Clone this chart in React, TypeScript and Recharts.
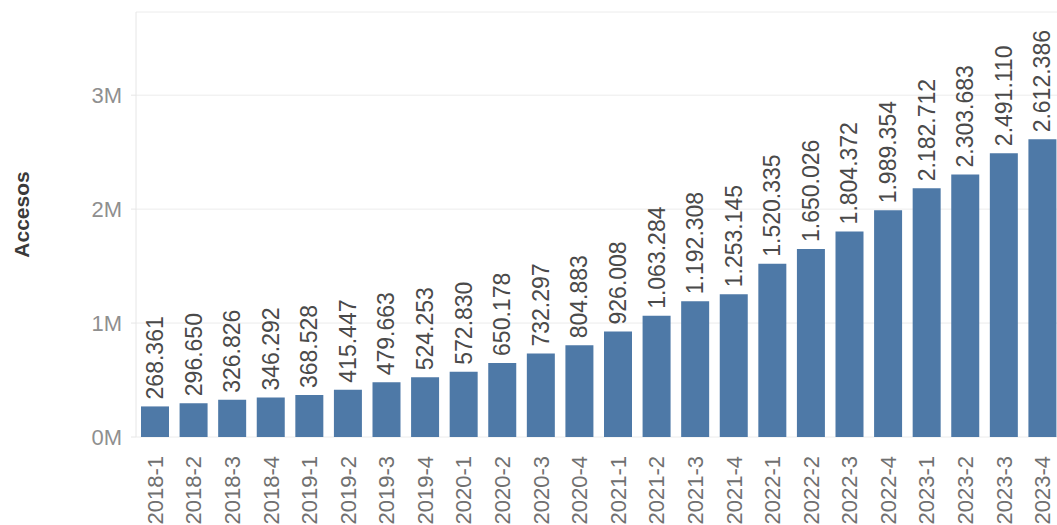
import React from 'react';
import { BarChart, Bar, XAxis, YAxis, CartesianGrid, LabelList, Label } from 'recharts';

const categories = ['2018-1','2018-2','2018-3','2018-4','2019-1','2019-2','2019-3','2019-4','2020-1','2020-2','2020-3','2020-4','2021-1','2021-2','2021-3','2021-4','2022-1','2022-2','2022-3','2022-4','2023-1','2023-2','2023-3','2023-4'];
const accesos = [268361,296650,326826,346292,368528,415447,479663,524253,572830,650178,732297,804883,926008,1063284,1192308,1253145,1520335,1650026,1804372,1989354,2182712,2303683,2491110,2612386];
const yTicks = [0, 1000000, 2000000, 3000000];
const yTickLabels = ['0M', '1M', '2M', '3M'];
const yDomainMax = 3730000;

const data = categories.map((c, i) => ({ periodo: c, accesos: accesos[i] }));

const FONT = '"Liberation Sans", Arial, sans-serif';
const BAR_COLOR = '#4e79a7';

function fmt(v: number): string {
  const s = String(Math.round(v));
  let out = '';
  for (let i = 0; i < s.length; i++) {
    const fromEnd = s.length - i;
    out += s[i];
    if (fromEnd > 1 && (fromEnd - 1) % 3 === 0) out += '.';
  }
  return out;
}

const XTick = (props: any) => {
  const { x, y, payload } = props;
  const ty = y + 11;
  return (
    <text x={x} y={ty} transform={`rotate(-90, ${x}, ${ty})`} textAnchor="end" dominantBaseline="central"
      fill="#707070" fontSize={22} fontFamily={FONT}>
      {payload.value}
    </text>
  );
};

const YTick = (props: any) => {
  const { y, payload } = props;
  const idx = yTicks.indexOf(payload.value);
  return (
    <text x={122} y={y} textAnchor="end" dominantBaseline="central" fill="#8f8f8f" fontSize={22} fontFamily={FONT}>
      {idx >= 0 ? yTickLabels[idx] : ''}
    </text>
  );
};

const ValueLabel = (props: any) => {
  const { x, y, width, value } = props;
  const cx = x + width / 2;
  const ty = y - 7;
  return (
    <text x={cx} y={ty} transform={`rotate(-90, ${cx}, ${ty})`} textAnchor="start" dominantBaseline="central"
      fill="#4a4a4a" fontSize={23} fontFamily={FONT}>
      {fmt(value)}
    </text>
  );
};

const AxisTitle = (props: any) => {
  const { viewBox } = props;
  const cy = viewBox.y + viewBox.height / 2 - 10;
  const cx = 21;
  return (
    <text x={cx} y={cy} transform={`rotate(-90, ${cx}, ${cy})`} textAnchor="middle" dominantBaseline="central"
      fill="#3a3a3a" fontSize={21} fontFamily={FONT} fontWeight={700}>
      Accesos
    </text>
  );
};

export default function App() {
  return (
    <div style={{ position: 'absolute', left: 0, top: 0, width: 1057, height: 525, overflow: 'hidden', background: '#fff' }}>
      <BarChart width={1062} height={525} data={data} margin={{ top: 12, right: 0, bottom: 0, left: 0 }}>
        <CartesianGrid vertical={false} stroke="#ececec" />
        <XAxis dataKey="periodo" height={88} interval={0} tick={<XTick />} tickLine={false} axisLine={false} />
        <YAxis width={136} domain={[0, yDomainMax]} ticks={yTicks} tick={<YTick />}
          tickLine={{ stroke: '#e6e6e6' }} tickSize={5} axisLine={{ stroke: '#e6e6e6' }}>
          <Label content={<AxisTitle />} />
        </YAxis>
        <Bar dataKey="accesos" fill={BAR_COLOR} barSize={28} isAnimationActive={false}>
          <LabelList dataKey="accesos" content={<ValueLabel />} />
        </Bar>
      </BarChart>
    </div>
  );
}
